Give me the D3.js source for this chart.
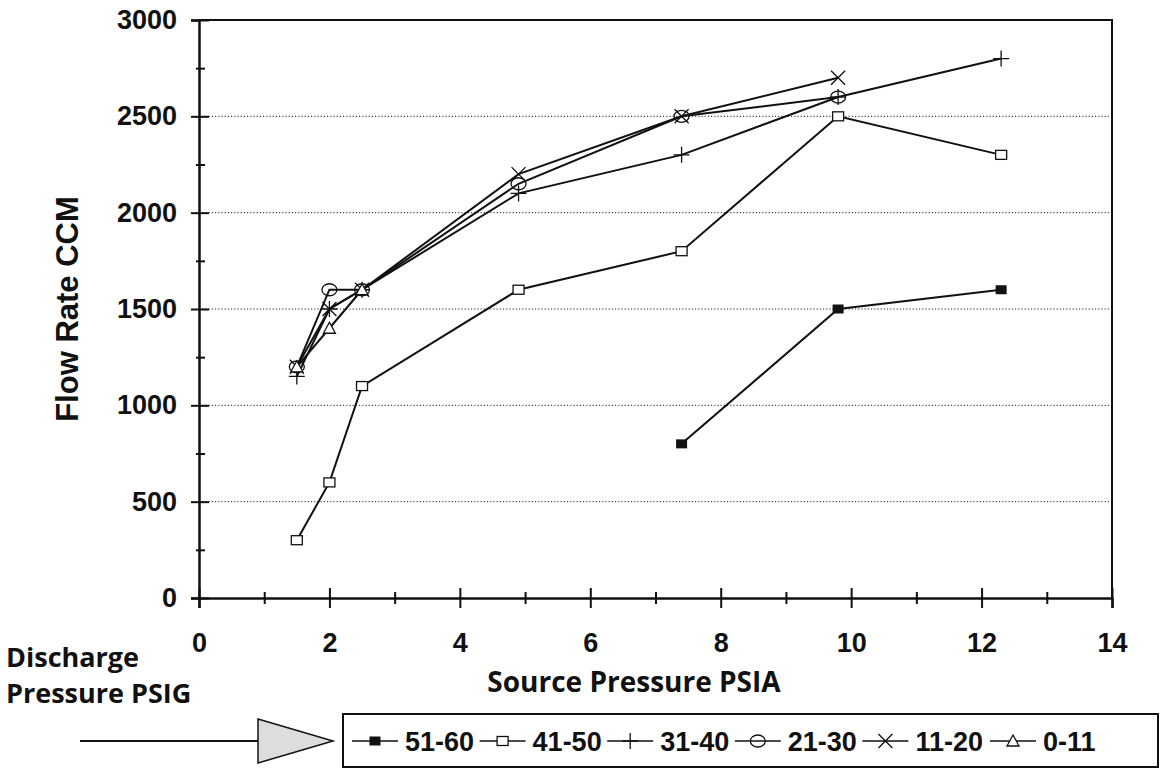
<!DOCTYPE html>
<html>
<head>
<meta charset="utf-8">
<script src="https://cdn.jsdelivr.net/npm/d3@7"></script>
<style>
  body { margin: 0; background: #fff; }
  svg { display: block; }
</style>
</head>
<body>
<div id="chart"></div>
<script>

// the data
const sourcePsia = [1.5, 2, 2.5, 4.9, 7.4, 9.8, 12.3];
const seriesNames = ["51-60", "41-50", "31-40", "21-30", "11-20", "0-11"];
const flow5160 = [null, null, null, null, 800, 1500, 1600];
const flow4150 = [300, 600, 1100, 1600, 1800, 2500, 2300];
const flow3140 = [1150, 1500, 1600, 2100, 2300, 2600, 2800];
const flow2130 = [1200, 1600, 1600, 2150, 2500, 2600, null];
const flow1120 = [1200, 1500, 1600, 2200, 2500, 2700, null];
const flow011 = [1200, 1400, 1600, null, null, null, null];
const yTicks = [0, 500, 1000, 1500, 2000, 2500, 3000];
const xTicks = [0, 2, 4, 6, 8, 10, 12, 14];

const allFlows = [flow5160, flow4150, flow3140, flow2130, flow1120, flow011];
const markerKinds = ["fillsquare", "square", "plus", "circle", "cross", "triangle"];

const width = 1162, height = 772;

const svg = d3.select("#chart")
  .append("svg")
    .attr("width", width)
    .attr("height", height);

// scales
const x = d3.scaleLinear().domain([0, 14]).range([199, 1112]);
const y = d3.scaleLinear().domain([0, 3000]).range([598, 20]);

// dotted grid
svg.append("g")
  .selectAll("line")
  .data(yTicks.filter(d => d > 0 && d < 3000))
  .join("line")
    .attr("x1", x(0))
    .attr("x2", x(14))
    .attr("y1", d => y(d))
    .attr("y2", d => y(d))
    .attr("stroke", "#222")
    .attr("stroke-width", 1)
    .attr("stroke-dasharray", "1.2,2");

// frame top + right
svg.append("path")
    .attr("d", `M${x(0)},${y(3000)}H${x(14)}V${y(0)}`)
    .attr("fill", "none")
    .attr("stroke", "#111")
    .attr("stroke-width", 2);

// Y axis: major + minor ticks
const yMinor = d3.range(250, 3000, 500);
const yAxis = svg.append("g")
    .attr("transform", `translate(${x(0)},0)`)
    .call(d3.axisLeft(y).tickValues(yTicks).tickSize(8).tickPadding(14).tickFormat(d3.format("d")));
yAxis.selectAll(".tick line").attr("x1", 10);
svg.append("g")
    .attr("transform", `translate(${x(0)},0)`)
    .call(d3.axisLeft(y).tickValues(yMinor).tickSize(3).tickFormat(""))
    .call(g => g.select(".domain").remove())
    .selectAll(".tick line").attr("x1", 6);

// X axis
const xMinor = d3.range(1, 14, 2);
const xAxis = svg.append("g")
    .attr("transform", `translate(0,${y(0)})`)
    .call(d3.axisBottom(x).tickValues(xTicks).tickSize(10).tickPadding(25));
xAxis.selectAll(".tick line").attr("y1", -10);
svg.append("g")
    .attr("transform", `translate(0,${y(0)})`)
    .call(d3.axisBottom(x).tickValues(xMinor).tickSize(6).tickFormat(""))
    .call(g => g.select(".domain").remove())
    .selectAll(".tick line").attr("y1", -6);

svg.selectAll(".domain")
    .attr("stroke", "#111")
    .attr("stroke-width", 2.5);
svg.selectAll(".tick line")
    .attr("stroke", "#111")
    .attr("stroke-width", 2);
svg.selectAll(".tick text")
    .attr("fill", "#111")
    .style("font-family", "'Liberation Sans', Arial, sans-serif")
    .style("font-weight", "bold")
    .style("font-size", "27px");

// axis titles
svg.append("text")
    .attr("transform", `translate(78,${(y(0) + y(3000)) / 2}) rotate(-90)`)
    .attr("text-anchor", "middle")
    .style("font-family", "'Liberation Sans', Arial, sans-serif")
    .style("font-weight", "bold")
    .style("font-size", "31px")
    .attr("fill", "#111")
    .text("Flow Rate CCM");

const titleFont = "'Open Sans', Lato, sans-serif";
svg.append("text")
    .attr("x", 634)
    .attr("y", 692)
    .attr("text-anchor", "middle")
    .style("font-family", titleFont)
    .style("font-weight", "700")
    .style("font-size", "28px")
    .attr("fill", "#111")
    .text("Source Pressure PSIA");

svg.append("text")
    .attr("x", 6)
    .attr("y", 667)
    .style("font-family", titleFont)
    .style("font-weight", "700")
    .style("font-size", "27px")
    .attr("fill", "#111")
    .text("Discharge");
svg.append("text")
    .attr("x", 6)
    .attr("y", 703)
    .style("font-family", titleFont)
    .style("font-weight", "700")
    .style("font-size", "27px")
    .attr("fill", "#111")
    .text("Pressure PSIG");

// marker drawing
function drawMarker(g, kind, cx, cy) {
  if (kind === "fillsquare") {
    g.append("rect").attr("x", cx - 5.5).attr("y", cy - 4.5).attr("width", 11).attr("height", 9)
      .attr("fill", "#111");
  } else if (kind === "square") {
    g.append("rect").attr("x", cx - 5.5).attr("y", cy - 4.5).attr("width", 11).attr("height", 9)
      .attr("fill", "#fff").attr("stroke", "#111").attr("stroke-width", 1.3);
  } else if (kind === "plus") {
    g.append("path").attr("d", `M${cx - 8},${cy}H${cx + 8}M${cx},${cy - 8}V${cy + 8}`)
      .attr("stroke", "#111").attr("stroke-width", 1.3);
  } else if (kind === "circle") {
    g.append("ellipse").attr("cx", cx).attr("cy", cy).attr("rx", 7.5).attr("ry", 6)
      .attr("fill", "none").attr("stroke", "#111").attr("stroke-width", 1.3);
  } else if (kind === "cross") {
    g.append("path").attr("d", `M${cx - 7},${cy - 7}L${cx + 7},${cy + 7}M${cx - 7},${cy + 7}L${cx + 7},${cy - 7}`)
      .attr("stroke", "#111").attr("stroke-width", 1.3);
  } else if (kind === "triangle") {
    g.append("path").attr("d", `M${cx},${cy - 6}L${cx + 6},${cy + 5}L${cx - 6},${cy + 5}Z`)
      .attr("fill", "#fff").attr("stroke", "#111").attr("stroke-width", 1.3);
  }
}

const line = d3.line()
    .defined(d => d[1] != null)
    .x(d => x(d[0]))
    .y(d => y(d[1]));

const plot = svg.append("g");
allFlows.forEach(function(flows, i) {
  const pts = sourcePsia.map((p, j) => [p, flows[j]]);
  plot.append("path")
      .datum(pts)
      .attr("d", line)
      .attr("fill", "none")
      .attr("stroke", "#111")
      .attr("stroke-width", 2);
});
allFlows.forEach(function(flows, i) {
  const g = plot.append("g");
  sourcePsia.forEach(function(p, j) {
    if (flows[j] != null) drawMarker(g, markerKinds[i], x(p), y(flows[j]));
  });
});

// legend + arrow
const legendY = 741;
svg.append("line")
    .attr("x1", 80).attr("x2", 258)
    .attr("y1", legendY).attr("y2", legendY)
    .attr("stroke", "#111").attr("stroke-width", 2);
svg.append("path")
    .attr("d", `M258,${legendY - 22}L258,${legendY + 22}L333,${legendY}Z`)
    .attr("fill", "#ddd")
    .attr("stroke", "#111")
    .attr("stroke-width", 1.5);

svg.append("rect")
    .attr("x", 343).attr("y", legendY - 27)
    .attr("width", 815).attr("height", 53)
    .attr("fill", "#fff")
    .attr("stroke", "#111")
    .attr("stroke-width", 2);

const legendX = d3.scaleLinear().domain([0, 5]).range([352, 990]);
seriesNames.forEach(function(name, i) {
  const lx = legendX(i), ly = legendY;
  const g = svg.append("g");
  g.append("line")
      .attr("x1", lx).attr("x2", lx + 46)
      .attr("y1", ly).attr("y2", ly)
      .attr("stroke", "#111").attr("stroke-width", 1.5);
  drawMarker(g, markerKinds[i], lx + 23, ly);
  g.append("text")
      .attr("x", lx + 53)
      .attr("y", ly + 10)
      .style("font-family", "'Liberation Sans', Arial, sans-serif")
      .style("font-weight", "bold")
      .style("font-size", "27px")
      .attr("fill", "#111")
      .text(name);
});

</script>
</body>
</html>
